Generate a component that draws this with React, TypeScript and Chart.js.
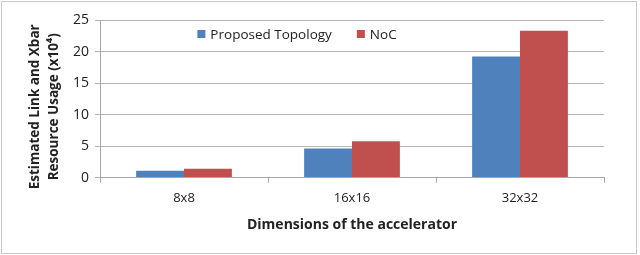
import React, { useEffect, useRef } from "react";
import { Chart, registerables } from "chart.js";

Chart.register(...registerables);

const categories = ["8x8", "16x16", "32x32"];
const proposedTopology = [1.1, 4.6, 19.2];
const noc = [1.4, 5.75, 23.3];
const seriesNames = ["Proposed Topology", "NoC"];
const yTicks = [0, 5, 10, 15, 20, 25];
const yTitleLines = ["Estimated Link and Xbar", "Resource Usage (x10⁴)"];

const FONT = "'Open Sans', 'Liberation Sans', sans-serif";
const BLUE = "#4f81bd";
const RED = "#c0504d";

const legendPlugin = {
  id: "insideLegend",
  afterDraw(chart: any) {
    const { ctx, chartArea } = chart;
    ctx.save();
    ctx.font = `13.5px ${FONT}`;
    ctx.textBaseline = "middle";
    const y = chartArea.top + 14;
    const items = chart.data.datasets.map((d: any) => ({ label: d.label, color: d.backgroundColor }));
    const box = 8;
    const gapBoxText = 5;
    const gapItems = 25;
    const widths = items.map((it: any) => box + gapBoxText + ctx.measureText(it.label).width);
    const total = widths.reduce((a: number, b: number) => a + b, 0) + gapItems * (items.length - 1);
    let x = (chartArea.left + chartArea.right) / 2 - total / 2 - 55;
    items.forEach((it: any, i: number) => {
      ctx.fillStyle = it.color;
      ctx.fillRect(x, y - box / 2, box, box);
      ctx.fillStyle = "#222";
      ctx.fillText(it.label, x + box + gapBoxText, y + 1);
      x += widths[i] + gapItems;
    });
    ctx.restore();
  },
};

const yTitlePlugin = {
  id: "yTitle",
  afterDraw(chart: any) {
    const { ctx, chartArea } = chart;
    ctx.save();
    ctx.font = `bold 13.5px ${FONT}`;
    ctx.fillStyle = "#222";
    ctx.textAlign = "center";
    ctx.textBaseline = "middle";
    const cy = (chartArea.top + chartArea.bottom) / 2 + 8;
    const xs = [chartArea.left - 65, chartArea.left - 46];
    yTitleLines.forEach((line, i) => {
      ctx.save();
      ctx.translate(xs[i], cy);
      ctx.rotate(-Math.PI / 2);
      ctx.fillText(line, 0, 0);
      ctx.restore();
    });
    ctx.restore();
  },
};

export default function App() {
  const ref = useRef<HTMLCanvasElement | null>(null);
  useEffect(() => {
    if (!ref.current) return;
    const chart = new Chart(ref.current, {
      type: "bar",
      data: {
        labels: categories,
        datasets: [
          { label: seriesNames[0], data: proposedTopology, backgroundColor: BLUE, borderWidth: 0 },
          { label: seriesNames[1], data: noc, backgroundColor: RED, borderWidth: 0 },
        ],
      },
      options: {
        animation: false,
        responsive: false,
        maintainAspectRatio: false,
        layout: { padding: { left: 67, right: 36, top: 20, bottom: 22 } },
        plugins: {
          legend: { display: false },
          tooltip: { enabled: false },
        },
        datasets: {
          bar: { barPercentage: 1, categoryPercentage: 0.57 },
        },
        scales: {
          x: {
            grid: { display: true, drawOnChartArea: false, tickLength: 5, color: "#a6a6a6", offset: true },
            border: { display: true, color: "#a6a6a6" },
            ticks: { color: "#222", font: { family: FONT, size: 13 }, padding: 8 },
            title: {
              display: true,
              text: "Dimensions of the accelerator",
              color: "#222",
              font: { family: FONT, size: 14, weight: "bold" },
              padding: { top: 2, bottom: 0 },
            },
          },
          y: {
            min: 0,
            max: 25,
            afterBuildTicks(axis: any) {
              axis.ticks = yTicks.map((v) => ({ value: v }));
            },
            grid: { color: "#b3b3b3", tickLength: 5 },
            border: { display: true, color: "#a6a6a6" },
            ticks: { color: "#222", font: { family: FONT, size: 14 }, padding: 6 },
            title: { display: false },
          },
        },
      },
      plugins: [legendPlugin, yTitlePlugin],
    });
    return () => chart.destroy();
  }, []);
  return (
    <div
      style={{
        position: "absolute",
        left: 0,
        top: 0,
        width: 640,
        height: 255,
        background: "#fff",
      }}
    >
      <div
        style={{
          position: "absolute",
          left: 1,
          top: 1,
          width: 636,
          height: 253,
          border: "1px solid #c8c8c8",
          boxSizing: "border-box",
        }}
      />
      <canvas ref={ref} width={640} height={255} style={{ position: "absolute", left: 0, top: 0 }} />
    </div>
  );
}
